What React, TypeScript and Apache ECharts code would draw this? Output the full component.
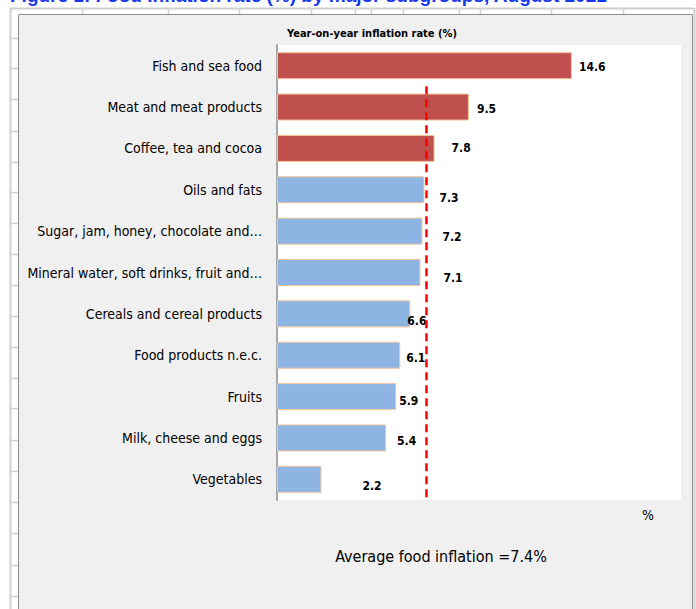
import React, { useEffect, useRef } from "react";
import * as echarts from "echarts";

const categories = [
  "Fish and sea food",
  "Meat and meat products",
  "Coffee, tea and cocoa",
  "Oils and fats",
  "Sugar, jam, honey, chocolate and…",
  "Mineral water, soft drinks, fruit and…",
  "Cereals and cereal products",
  "Food products n.e.c.",
  "Fruits",
  "Milk, cheese and eggs",
  "Vegetables",
];
const inflationRates = [14.6, 9.5, 7.8, 7.3, 7.2, 7.1, 6.6, 6.1, 5.9, 5.4, 2.2];
const averageInflation = 7.4;
// Dashed average line runs from the boundary between the 1st and 2nd rows down to the bottom
const averageLineRows = [1, 11];

const chartTitle = "Figure 1: Food inflation rate (%) by major subgroups, August 2021";
const plotTitle = "Year-on-year inflation rate (%)";
const unitLabel = "%";

// label placement nudges (layout only)
const labelNudge: [number, number][] = [
  [7, 1], [8, 2], [17, 0], [15, 8], [20, 6], [23, 5], [-3, 7], [6, 3], [3, 4], [11, 3], [41, 7],
];

const FONT = '"DejaVu Sans Condensed", "Liberation Sans Narrow", "Open Sans", sans-serif';
const RED = "#c0504d";
const BLUE = "#8db4e2";

const colTicks = [82, 168, 239, 311, 355, 371, 403, 459, 480, 551, 623];
const rowTicks = [38, 68, 99, 131, 162, 192, 223, 254, 285, 316, 347, 378, 408, 440, 471, 502, 533, 565, 596];

export default function App() {
  const ref = useRef<HTMLDivElement>(null);
  useEffect(() => {
    if (!ref.current) return;
    const chart = echarts.init(ref.current, undefined, { renderer: "svg" });
    const sheetLines: any[] = [
      { type: "line", shape: { x1: 10.5, y1: 8, x2: 10.5, y2: 609 }, style: { stroke: "#d0d0d0", lineWidth: 2 }, z: -20 },
      { type: "line", shape: { x1: 10, y1: 8.5, x2: 694, y2: 8.5 }, style: { stroke: "#d0d0d0", lineWidth: 2 }, z: -20 },
      { type: "line", shape: { x1: 694.5, y1: 8, x2: 694.5, y2: 609 }, style: { stroke: "#d0d0d0", lineWidth: 2 }, z: -20 },
      ...colTicks.map((x) => ({
        type: "line", shape: { x1: x + 0.5, y1: 8, x2: x + 0.5, y2: 14 }, style: { stroke: "#d0d0d0", lineWidth: 1.5 }, z: -20,
      })),
      ...rowTicks.map((y) => ({
        type: "line", shape: { x1: 10, y1: y + 0.5, x2: 18, y2: y + 0.5 }, style: { stroke: "#d0d0d0", lineWidth: 1.5 }, z: -20,
      })),
    ];
    chart.setOption({
      animation: false,
      backgroundColor: "#ffffff",
      textStyle: { fontFamily: FONT },
      graphic: [
        ...sheetLines,
        {
          type: "rect",
          shape: { x: 18.5, y: 14.5, width: 674, height: 610 },
          style: { fill: "#f0f0f0", stroke: "#8c8c8c", lineWidth: 1 },
          z: -10,
        },
        {
          type: "text",
          x: 10,
          y: -5,
          style: {
            text: chartTitle,
            fill: "#1538f0",
            font: `bold 19px "Liberation Sans", "DejaVu Sans", sans-serif`,
            textVerticalAlign: "middle",
          },
          z: 5,
        },
        {
          type: "text",
          x: 372,
          y: 33,
          style: {
            text: plotTitle,
            fill: "#000",
            font: `bold 11px ${FONT}`,
            textAlign: "center",
            textVerticalAlign: "middle",
          },
        },
        {
          type: "text",
          x: 648,
          y: 515,
          style: { text: unitLabel, fill: "#000", font: `14px ${FONT}`, textAlign: "center", textVerticalAlign: "middle" },
        },
        {
          type: "text",
          x: 441,
          y: 556,
          style: {
            text: `Average food inflation =${averageInflation}%`,
            fill: "#000",
            font: `16px ${FONT}`,
            textAlign: "center",
            textVerticalAlign: "middle",
          },
        },
      ],
      grid: {
        left: 277,
        top: 45,
        right: 15,
        bottom: 109,
        show: true,
        backgroundColor: "#ffffff",
        borderWidth: 0,
      },
      xAxis: { type: "value", min: 0, max: 20, show: false },
      yAxis: [
        {
          type: "category",
          data: categories,
          inverse: true,
          axisLine: { show: true, lineStyle: { color: "#a6a6a6", width: 2 } },
          axisTick: { show: false },
          axisLabel: { color: "#000", fontSize: 14, margin: 15, fontFamily: FONT },
        },
        { type: "value", min: 0, max: 11, inverse: true, show: false },
      ],
      series: [
        {
          type: "bar",
          data: inflationRates.map((v, i) => ({
            value: v,
            label: { offset: labelNudge[i] },
          })),
          barWidth: 27,
          itemStyle: {
            color: (p: any) => (p.value > averageInflation ? RED : BLUE),
            borderColor: "#f5c59a",
            borderWidth: 1,
          },
          label: {
            show: true,
            position: "right",
            distance: 0,
            color: "#000",
            fontWeight: "bold",
            fontSize: 12,
            fontFamily: FONT,
            formatter: (p: any) => p.value.toFixed(1),
          },
        },
        {
          type: "line",
          yAxisIndex: 1,
          data: averageLineRows.map((r) => [averageInflation, r]),
          symbol: "none",
          lineStyle: { color: "#ff0000", width: 2.5, type: [8, 5] },
          z: 5,
        },
      ],
    });
    return () => chart.dispose();
  }, []);
  return <div ref={ref} style={{ position: "fixed", left: 0, top: 0, width: 696, height: 609 }} />;
}
